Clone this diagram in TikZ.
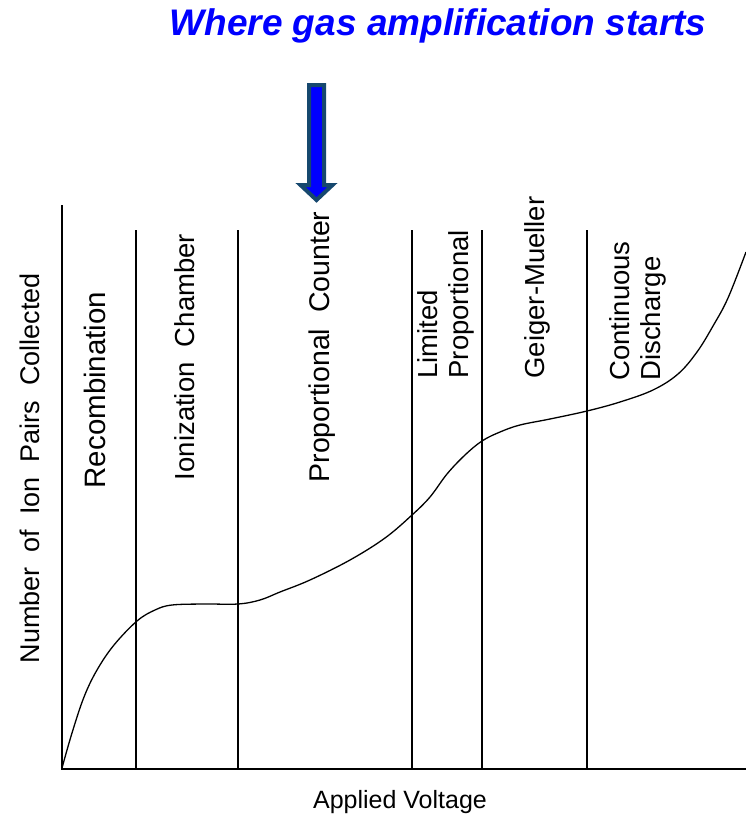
\documentclass[tikz,border=0pt]{standalone}
\usepackage{fontspec}
\setmainfont{Liberation Sans}
\usepackage{tikz}
\usetikzlibrary{positioning}

\definecolor{arrowedge}{RGB}{22,72,110}

\begin{document}
\begin{tikzpicture}[x=1pt, y=-1pt,
        regionline/.style={line width=2.2pt, black},
        regionlabel/.style={rotate=90, font=\fontsize{27.5}{31}\selectfont, align=left},
        axislabel/.style={font=\fontsize{26}{30}\selectfont}]
        \useasboundingbox (0,0) rectangle (746,815);
        % Title and arrow
        \node[font=\fontsize{37}{42}\selectfont\bfseries\itshape, text=blue] (title) at (438,26) {Where gas amplification starts};
        \draw[arrowedge, line width=4pt, fill=blue, line join=miter]
            (309,85) -- (324,85) -- (324,185) -- (332.5,185) -- (316.5,200) -- (300.5,185) -- (309,185) -- cycle;
        % Axes
        \coordinate (O) at (62,769);
        \coordinate (ytop) at (62,205);
        \coordinate (xend) at (746,769);
        \draw[regionline] (ytop) -- (O) -- (xend);
        % Region borders
        \foreach \x in {136,238,412,482,587}
            \draw[regionline] (\x,230) -- (\x,769);
        % Response curve
        \draw[line width=1.3pt, smooth, tension=0.6] plot coordinates {
            (62,768) (72,733) (84,697) (97,670) (114,645) (137,621) (155,610)
            (172,605) (205,604) (238,604) (260,600) (280,592) (310,580) (350,560)
            (385,538) (412,515) (430,497) (447,474) (465,455) (482,441)
            (500,432) (520,425) (550,419) (587,411) (620,402) (653,390) (678,374)
            (697,352) (713,326) (728,298) (746,252)};
        % Region labels
        \node[regionlabel, font=\fontsize{29.5}{33}\selectfont] (recomb) at (95,390) {Recombination};
        \node[regionlabel] (ionch) at (185,357) {Ionization\ \ Chamber};
        \node[regionlabel, font=\fontsize{28.5}{32}\selectfont] (propc) at (322,347) {Proportional\ \ Counter};
        \node[regionlabel, anchor=west] (limprop) at (446,382) {Limited\\Proportional};
        \node[regionlabel, anchor=west] (gm) at (537,382) {Geiger-Mueller};
        \node[regionlabel, anchor=west] (contd) at (638,384) {Continuous\\Discharge};
        % Axis labels
        \node[axislabel, rotate=90, font=\fontsize{27}{31}\selectfont] (ylab) at (30,468) {Number\ \ of\ \ Ion\ \ Pairs\ \ Collected};
        \node[axislabel, font=\fontsize{25}{30}\selectfont] (xlab) at (400,802) {Applied\ Voltage};
    \end{tikzpicture}
\end{document}
